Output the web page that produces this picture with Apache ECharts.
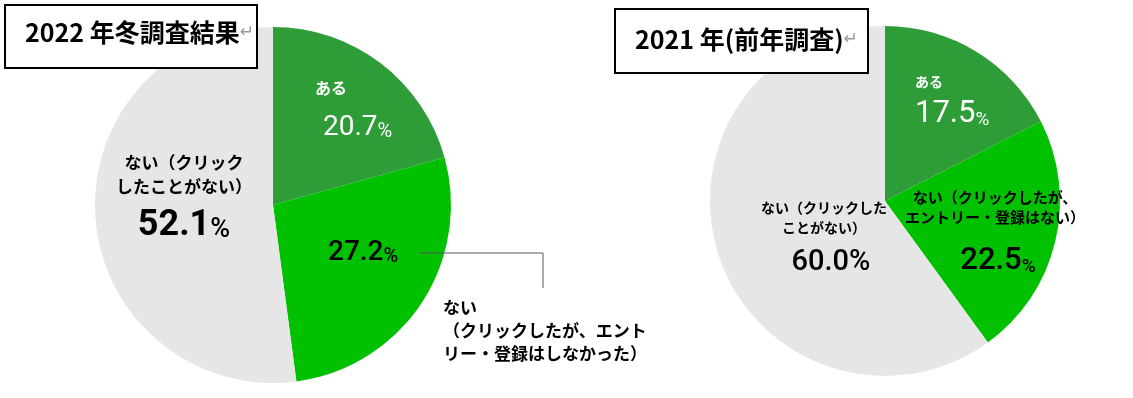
<!DOCTYPE html>
<html>
	<head>
		<meta charset="UTF-8">
		<title></title>
		<script src="https://cdn.jsdelivr.net/npm/echarts@6/dist/echarts.min.js" type="text/javascript" charset="utf-8"></script>
		<style>
			html, body { margin: 0; padding: 0; background: #fff; }
		</style>
	</head>
	<body>
		<div id="pie" style="width:1133px;height:398px;"></div>
	</body>
	<script type="text/javascript">
        // データ
        var categories2022 = ['ある', 'ない\n（クリックしたが、エント\nリー・登録はしなかった）', 'ない（クリック\nしたことがない）'];
        var values2022 = [20.7, 27.2, 52.1];
        var categories2021 = ['ある', 'ない（クリックしたが、\nエントリー・登録はない）', 'ない（クリックした\nことがない）'];
        var values2021 = [17.5, 22.5, 60.0];
        var titles = ['2022 年冬調査結果', '2021 年(前年調査)'];
        var colors = ['#2f9d37', '#00c000', '#e6e6e6'];

        // ラベル位置
        var pos2022 = [
            {x: 315, y: 76, align: 'left', verticalAlign: 'top'},
            {x: 328, y: 253, align: 'left', verticalAlign: 'middle'},
            {x: 184, y: 151, align: 'center', verticalAlign: 'top'}
        ];
        var pos2021 = [
            {x: 915, y: 71, align: 'left', verticalAlign: 'top'},
            {x: 995, y: 187, align: 'center', verticalAlign: 'top'},
            {x: 824, y: 198, align: 'center', verticalAlign: 'top'}
        ];

        var jp = '"Noto Sans CJK JP"';
        var num = 'Roboto';

        function toData(names, vals) {
            return vals.map(function (v, i) {
                return {name: names[i], value: v, itemStyle: {color: colors[i]}};
            });
        }
        function nameLines(name, key) {
            return name.split('\n').map(function (s) { return '{' + key + '|' + s + '}'; }).join('\n');
        }

        var pie = echarts.init(document.getElementById('pie'), null, {renderer: 'canvas'});

        var titleRich = {
            t: {fontSize: 25, fontWeight: 'bold', fontFamily: jp, fill: '#000'},
            r: {fontSize: 17, fill: '#999', fontFamily: 'DejaVu Sans'}
        };

        var option = {
            animation: false,
            graphic: [
                {type: 'rect', z: 100, shape: {x: 5, y: 5, width: 252, height: 63},
                    style: {fill: '#fff', stroke: '#000', lineWidth: 2}},
                {type: 'text', z: 101, left: 25, top: 20,
                    style: {text: '{t|' + titles[0] + '}{r|↵}', rich: titleRich}},
                {type: 'rect', z: 100, shape: {x: 615, y: 9, width: 253, height: 64},
                    style: {fill: '#fff', stroke: '#000', lineWidth: 2}},
                {type: 'text', z: 101, left: 635, top: 27,
                    style: {text: '{t|' + titles[1] + '}{r|↵}', rich: titleRich}}
            ],
            series: [
                {
                    type: 'pie',
                    center: [273, 205],
                    radius: 178,
                    startAngle: 90,
                    avoidLabelOverlap: false,
                    silent: true,
                    itemStyle: {borderWidth: 0},
                    data: toData(categories2022, values2022),
                    label: {
                        position: 'inside',
                        formatter: function (p) {
                            var v = p.value.toFixed(1);
                            if (p.dataIndex === 0) return nameLines(p.name, 'nw') + '\n{g0| }\n{vw|' + v + '}{pw|%}';
                            if (p.dataIndex === 1) return '{v|' + v + '}{p|%}';
                            return nameLines(p.name, 'n') + '\n{g2| }\n{vL|' + v + '}{pL|%}';
                        },
                        rich: {
                            n: {fontSize: 17, fontWeight: 'bold', fontFamily: jp, color: '#000', lineHeight: 24},
                            nw: {fontSize: 16, fontWeight: 'bold', fontFamily: jp, color: '#fff', lineHeight: 24},
                            g0: {fontSize: 1, lineHeight: 14},
                            g2: {fontSize: 1, lineHeight: 9},
                            vw: {fontSize: 28, fontFamily: num, color: '#fff', lineHeight: 28, verticalAlign: 'bottom', padding: [0, 0, 0, 8]},
                            pw: {fontSize: 20, fontFamily: num, color: '#fff', lineHeight: 20, verticalAlign: 'bottom'},
                            v: {fontSize: 28, fontWeight: 500, fontFamily: num, color: '#000', lineHeight: 28, verticalAlign: 'bottom'},
                            p: {fontSize: 20, fontWeight: 500, fontFamily: num, color: '#000', lineHeight: 20, verticalAlign: 'bottom'},
                            vL: {fontSize: 36, fontWeight: 'bold', fontFamily: num, color: '#000', lineHeight: 36, verticalAlign: 'bottom'},
                            pL: {fontSize: 27, fontWeight: 500, fontFamily: num, color: '#000', lineHeight: 27, verticalAlign: 'bottom'}
                        }
                    },
                    labelLine: {show: false},
                    labelLayout: function (p) { return pos2022[p.dataIndex]; }
                },
                {
                    // 外側の説明ラベル(引き出し線つき)
                    type: 'pie',
                    center: [273, 205],
                    radius: 178,
                    startAngle: 90,
                    avoidLabelOverlap: false,
                    silent: true,
                    z: 3,
                    itemStyle: {color: 'rgba(0,0,0,0)', borderWidth: 0},
                    data: values2022.map(function (v, i) {
                        return {name: categories2022[i], value: v, label: {show: i === 1}, labelLine: {show: i === 1}};
                    }),
                    label: {
                        position: 'outside',
                        formatter: '{b}',
                        fontSize: 17, fontWeight: 'bold', fontFamily: jp, color: '#000', lineHeight: 23
                    },
                    labelLine: {lineStyle: {color: '#595959', width: 1}},
                    labelLayout: function (p) {
                        return {x: 443, y: 296, align: 'left', verticalAlign: 'top',
                            labelLinePoints: [[420, 253], [543, 253], [543, 288]]};
                    }
                },
                {
                    type: 'pie',
                    center: [885, 201],
                    radius: 175,
                    startAngle: 90,
                    avoidLabelOverlap: false,
                    silent: true,
                    itemStyle: {borderWidth: 0},
                    data: toData(categories2021, values2021),
                    label: {
                        position: 'inside',
                        formatter: function (p) {
                            var v = p.value.toFixed(1);
                            if (p.dataIndex === 0) return nameLines(p.name, 'nw') + '\n{g0| }\n{vw|' + v + '}{pw|%}';
                            if (p.dataIndex === 1) return nameLines(p.name, 'n') + '\n{g1| }\n{v1|' + v + '}{p|%}';
                            return nameLines(p.name, 'n2') + '\n{g2| }\n{v2|' + v + '%}';
                        },
                        rich: {
                            n: {fontSize: 15, fontWeight: 'bold', fontFamily: jp, color: '#000', lineHeight: 20},
                            n2: {fontSize: 14, fontWeight: 'bold', fontFamily: jp, color: '#000', lineHeight: 20},
                            nw: {fontSize: 14, fontWeight: 'bold', fontFamily: jp, color: '#fff', lineHeight: 22},
                            g0: {fontSize: 1, lineHeight: 7},
                            g1: {fontSize: 1, lineHeight: 20},
                            g2: {fontSize: 1, lineHeight: 9},
                            vw: {fontSize: 31, fontFamily: num, color: '#fff', lineHeight: 30, verticalAlign: 'bottom'},
                            pw: {fontSize: 19, fontFamily: num, color: '#fff', lineHeight: 19, verticalAlign: 'bottom'},
                            v1: {fontSize: 31, fontWeight: 500, fontFamily: num, color: '#000', lineHeight: 30, verticalAlign: 'bottom', padding: [0, 0, 0, 6]},
                            v2: {fontSize: 29, fontWeight: 500, fontFamily: num, color: '#000', lineHeight: 30, verticalAlign: 'bottom', padding: [0, 0, 0, 14]},
                            p: {fontSize: 19, fontWeight: 500, fontFamily: num, color: '#000', lineHeight: 19, verticalAlign: 'bottom'}
                        }
                    },
                    labelLine: {show: false},
                    labelLayout: function (p) { return pos2021[p.dataIndex]; }
                }
            ]
        };
        pie.setOption(option);
	</script>
</html>
